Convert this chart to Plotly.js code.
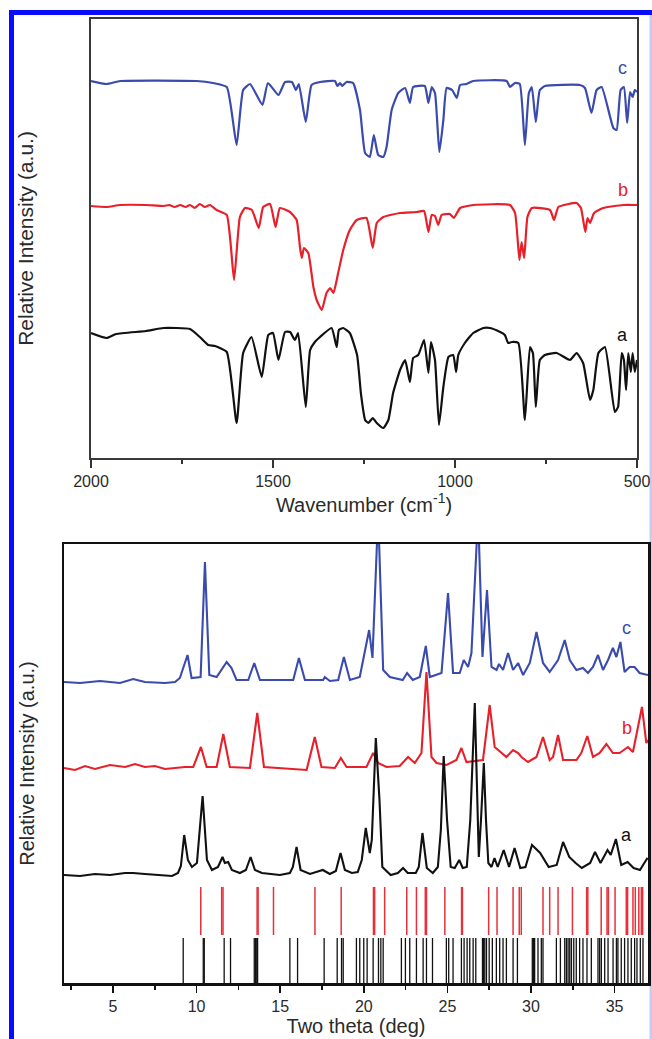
<!DOCTYPE html>
<html><head><meta charset="utf-8">
<script src="https://cdn.plot.ly/plotly-3.0.1.min.js"></script>
<style>html,body{margin:0;padding:0;background:#fff;}#chart{width:652px;height:1039px;}</style>
</head><body><div id="chart"></div>
<script>
// ---------- FTIR (top panel) ----------
const ftirWnC = [2000,1957,1920,1710,1665,1627,1600,1582,1563,1529,1514,1485,1467,1448,1437,1429,1410,1394,1371,1330,1323,1316,1310,1298,1280,1261,1247,1234,1223,1211,1197,1188,1174,1156,1137,1124,1115,1083,1073,1064,1055,1043,1032,1023,1008,995,986,968,950,858,849,835,822,808,797,789,778,767,753,657,643,625,611,597,565,556,545,536,527,519,512,506,500];
const ftirC = [377,374,377,377,375,371,313,368,374,353,375,363,376,376,368,374,336,373,376,377,372,375,372,376,375,348,305,301,323,303,301,311,348,365,370,355,371,372,355,371,365,306,338,370,368,360,373,374,377,377,371,375,374,313,365,371,336,368,372,373,370,345,368,371,330,328,368,371,335,366,361,368,366];

const ftirWnB = [2000,1957,1920,1849,1800,1785,1770,1755,1740,1728,1715,1701,1687,1673,1655,1627,1607,1591,1577,1558,1539,1527,1508,1493,1481,1453,1435,1426,1421,1415,1403,1389,1380,1366,1353,1343,1334,1321,1307,1289,1270,1243,1226,1215,1197,1151,1105,1085,1073,1064,1055,1046,1037,1014,1003,986,950,849,835,823,817,810,801,789,739,728,716,666,654,642,636,629,618,593,538,500];
const ftirB = [252,251,253,253,252,253,251,253,251,253,250,254,251,253,248,243,178,241,250,248,230,251,254,231,250,246,238,211,200,210,205,171,158,148,165,170,165,185,208,228,238,240,210,235,241,245,246,247,226,243,242,233,243,244,240,250,253,253,245,198,216,200,241,250,248,238,251,255,250,226,240,235,245,250,253,253];

const ftirWnA = [2000,1957,1931,1849,1801,1728,1701,1678,1659,1627,1600,1582,1559,1531,1513,1500,1485,1467,1453,1440,1431,1410,1398,1385,1371,1339,1325,1319,1307,1289,1269,1258,1247,1238,1226,1215,1197,1183,1170,1151,1137,1124,1115,1101,1085,1073,1066,1055,1044,1032,1018,1005,997,991,973,950,922,904,876,863,854,844,826,808,794,786,778,767,753,721,684,666,648,629,620,606,588,561,552,542,536,530,524,517,512,506,500];
const ftirA = [125,120,124,127,130,129,121,113,112,106,35,105,121,81,123,125,98,126,126,118,125,51,108,116,121,130,111,128,130,125,103,63,38,35,40,35,30,38,65,88,98,76,100,103,118,85,116,98,33,71,101,103,86,103,115,125,130,130,126,123,115,116,115,38,111,105,51,98,103,105,98,105,95,58,68,105,111,46,51,105,98,68,105,86,105,86,98];

const ftirTicks = [2000,1500,1000,500];

// ---------- XRD (bottom panel) ----------
const xrdThetaC = [2.07,3.03,4.22,5.42,6.21,6.91,8.11,8.71,9.0,9.46,9.7,10.24,10.5,10.76,11.2,11.8,12.09,12.39,13.09,13.45,13.79,15.78,16.12,16.48,17.57,17.67,17.97,18.47,18.81,19.17,19.76,20.32,20.52,20.86,21.16,21.56,22.33,22.59,22.93,23.35,23.71,23.95,24.65,25.04,25.34,25.74,25.98,26.24,26.44,26.84,27.1,27.37,27.64,27.94,28.09,28.33,28.63,28.93,29.23,29.53,29.93,30.33,30.72,31.12,31.62,32.02,32.32,32.72,33.11,33.41,33.71,34.01,34.31,34.61,34.9,35.11,35.35,35.6,35.9,36.2,36.5,36.9,37.0];
const xrdC = [301,300,302,300,304,301,300,301,305,328,305,306,421,308,306,321,315,303,303,320,303,303,325,303,303,306,302,303,326,303,306,353,325,470,313,306,303,310,303,306,337,306,310,390,310,310,323,316,330,470,326,393,316,313,319,313,330,313,320,308,320,351,320,311,323,343,323,313,315,310,316,328,313,323,335,326,341,311,316,316,310,308,308];

const xrdThetaB = [2.07,2.73,3.33,3.92,4.82,5.72,6.32,6.91,7.51,8.11,8.71,9.3,9.8,10.26,10.6,11.2,11.6,11.99,13.19,13.63,14.03,14.98,16.18,16.58,17.07,17.47,18.27,18.63,18.97,19.76,20.16,20.56,20.86,21.36,22.15,22.65,23.05,23.45,23.75,24.05,24.35,24.95,25.54,25.84,26.14,27.13,27.53,27.83,28.03,28.53,28.93,29.23,29.43,29.82,30.33,30.72,31.12,31.32,31.62,31.92,32.72,33.01,33.37,33.71,34.11,34.51,34.9,35.3,35.8,36.1,36.64,36.9,37.0];
const xrdB = [215,213,217,214,218,216,219,216,217,214,215,216,216,236,216,216,249,216,215,270,216,215,213,213,246,216,215,225,216,216,216,230,220,216,217,226,220,230,311,226,220,218,223,235,221,223,278,236,233,226,233,230,226,221,226,246,223,226,248,223,223,230,247,226,230,239,230,230,236,231,276,240,243];

const xrdThetaA = [2.07,3.03,3.92,4.82,5.72,6.2,6.91,7.81,8.53,8.89,9.06,9.26,9.48,9.72,10.02,10.36,10.62,10.92,11.28,11.55,11.69,11.89,12.11,12.59,12.95,13.23,13.49,13.91,14.98,15.58,15.76,15.98,16.22,16.78,17.55,17.97,18.33,18.61,18.87,19.29,19.64,19.88,20.12,20.36,20.48,20.72,20.94,21.11,21.61,22.04,22.35,22.63,23.11,23.29,23.51,23.77,24.13,24.43,24.61,24.78,24.98,25.2,25.44,25.71,25.92,26.16,26.37,26.64,26.88,27.01,27.18,27.31,27.45,27.64,27.82,28.01,28.37,28.69,29.02,29.36,29.67,30.06,30.55,31.06,31.54,31.92,32.29,32.67,33.04,33.54,33.83,34.16,34.58,34.77,35.08,35.4,35.78,36.14,36.52,36.89,36.98];
const xrdA = [108,107,109,108,110,110,109,108,107,110,117,148,123,116,120,187,123,113,116,126,120,121,113,110,113,126,113,110,108,110,116,136,113,109,113,109,112,130,113,110,111,123,155,130,143,245,183,116,108,110,115,110,110,116,150,115,110,116,153,227,163,116,115,123,115,116,163,280,126,163,220,163,120,116,125,116,133,116,135,115,116,138,130,116,118,141,126,120,115,120,131,120,133,128,144,118,121,115,113,123,125];

// reference stick patterns (peak positions, 2θ)
const refRedSticks = [10.25,11.5,11.58,13.62,13.68,14.6,17.08,18.65,20.58,20.65,21.25,22.57,23.15,23.68,23.75,24.85,25.85,25.9,27.47,27.97,28.93,29.3,29.42,30.72,31.12,31.62,32.48,33.33,33.4,34.2,34.55,34.63,35.03,35.7,35.78,36.1,36.24,36.45,36.6,36.68];
const refBlackSticks = [9.2,10.4,10.46,11.65,12.03,13.45,13.53,13.6,13.65,15.58,16.04,17.63,18.41,18.67,18.77,19.56,19.76,20.0,20.2,20.56,20.88,21.02,21.16,22.25,22.49,22.75,23.15,23.55,23.75,24.11,24.94,25.08,25.34,25.84,26.0,26.18,26.34,26.54,26.7,27.1,27.17,27.24,27.34,27.5,27.69,27.93,28.13,28.33,28.53,28.93,29.19,30.08,30.15,30.22,30.42,30.62,30.72,31.52,31.76,32.02,32.12,32.22,32.32,32.42,32.56,32.71,32.91,33.11,33.35,33.61,34.01,34.11,34.21,34.41,34.61,34.91,35.11,35.2,35.4,35.6,35.8,36.0,36.2,36.34,36.54,36.7];
const xrdTicks = [5,10,15,20,25,30,35];

const curveLabels = ['a','b','c'];

// ---------- build ----------
const BLUE = '#3a4bad', RED = '#e8202a', BLACK = '#111111';
function sticks(pos, lo, hi){ const x=[],y=[]; pos.forEach(p=>{x.push(p,p,null);y.push(lo,hi,null);}); return {x,y}; }
const sb = sticks(refBlackSticks, 0, 45), sr = sticks(refRedSticks, 48, 96);

const ftirLine = c => ({color:c, width:2.2, shape:'spline', smoothing:0.45});
const xrdLine = c => ({color:c, width:2.1});

const traces = [
  {x: ftirWnC, y: ftirC, xaxis:'x', yaxis:'y', mode:'lines', line:ftirLine(BLUE), name:'c', showlegend:false, hoverinfo:'skip'},
  {x: ftirWnB, y: ftirB, xaxis:'x', yaxis:'y', mode:'lines', line:ftirLine(RED), name:'b', showlegend:false, hoverinfo:'skip'},
  {x: ftirWnA, y: ftirA, xaxis:'x', yaxis:'y', mode:'lines', line:ftirLine(BLACK), name:'a', showlegend:false, hoverinfo:'skip'},
  {x: xrdThetaC, y: xrdC, xaxis:'x2', yaxis:'y2', mode:'lines', line:xrdLine(BLUE), name:'c', showlegend:false, hoverinfo:'skip'},
  {x: xrdThetaB, y: xrdB, xaxis:'x2', yaxis:'y2', mode:'lines', line:xrdLine(RED), name:'b', showlegend:false, hoverinfo:'skip'},
  {x: xrdThetaA, y: xrdA, xaxis:'x2', yaxis:'y2', mode:'lines', line:xrdLine(BLACK), name:'a', showlegend:false, hoverinfo:'skip'},
  {x: sr.x, y: sr.y, xaxis:'x2', yaxis:'y2', mode:'lines', line:{color:'#e8303a', width:1.5}, showlegend:false, hoverinfo:'skip', connectgaps:false},
  {x: sb.x, y: sb.y, xaxis:'x2', yaxis:'y2', mode:'lines', line:{color:'#111', width:1.3}, showlegend:false, hoverinfo:'skip', connectgaps:false}
];

const FONT = 'Liberation Sans, Arial, sans-serif';
const W = 652, H = 1039;
const px = v => v / W, py = v => 1 - v / H;

const lblColors = [BLACK, RED, BLUE];
const annotations = [];
const topLblY = [123, 268, 390], botLblY = [148, 255, 355];
curveLabels.forEach((t,i)=>{
  annotations.push({xref:'x', yref:'y', x:539, y:topLblY[i], text:t, showarrow:false, font:{family:FONT, size:18, color:lblColors[i]}});
  annotations.push({xref:'x2', yref:'y2', x:35.72, y:botLblY[i], text:t, showarrow:false, font:{family:FONT, size:18, color:lblColors[i]}});
});

const layout = {
  width: W, height: H,
  margin: {l:0, r:0, t:0, b:0},
  paper_bgcolor: '#fff', plot_bgcolor: '#fff',
  font: {family: FONT, color: '#2a2a2a'},
  showlegend: false,
  xaxis: {
    domain: [px(91), px(637)], anchor: 'y', range: [2000, 500],
    tickmode: 'array', tickvals: ftirTicks, ticktext: ftirTicks.map(String),
    ticks: 'outside', ticklen: 8, tickwidth: 1.5, tickcolor: '#333',
    minor: {tickmode:'array', tickvals:[1750,1250,750], ticks:'outside', ticklen:4, tickwidth:1.5, tickcolor:'#333'},
    tickfont: {size: 16, color:'#2a2a2a'},
    showline: true, linecolor: '#3a3a3a', linewidth: 2, mirror: true,
    showgrid: false, zeroline: false, automargin: false,
    title: {text: 'Wavenumber (cm<sup>-1</sup>)', font: {size: 20, color:'#2a2a2a'}, standoff: 6}
  },
  yaxis: {
    domain: [py(458), py(19)], anchor: 'x', range: [0, 439],
    showticklabels: false, ticks: '',
    showline: true, linecolor: '#3a3a3a', linewidth: 2, mirror: true,
    showgrid: false, zeroline: false, automargin: false,
    title: {text: 'Relative Intensity (a.u.)', font: {size: 21, color:'#2a2a2a'}, standoff: 50}
  },
  xaxis2: {
    domain: [px(64), px(648)], anchor: 'y2', range: [2.07, 37.0],
    tickmode: 'array', tickvals: xrdTicks, ticktext: xrdTicks.map(String),
    ticks: 'outside', ticklen: 7, tickwidth: 1.5, tickcolor: '#111',
    minor: {tickmode:'array', tickvals:[2.5,7.5,12.5,17.5,22.5,27.5,32.5], ticks:'outside', ticklen:4, tickwidth:1.5, tickcolor:'#111'},
    tickfont: {size: 16, color:'#2a2a2a'},
    showline: true, linecolor: '#111', linewidth: 2.5, mirror: true,
    showgrid: false, zeroline: false, automargin: false,
    title: {text: 'Two theta (deg)', font: {size: 20, color:'#2a2a2a'}, standoff: 4}
  },
  yaxis2: {
    domain: [py(983), py(544)], anchor: 'x2', range: [0, 439],
    showticklabels: false, ticks: '',
    showline: true, linecolor: '#111', linewidth: 2.5, mirror: true,
    showgrid: false, zeroline: false, automargin: false,
    title: {text: 'Relative Intensity (a.u.)', font: {size: 20, color:'#2a2a2a'}, standoff: 22}
  },
  annotations: annotations,
  shapes: [
    {type:'rect', xref:'paper', yref:'paper', x0:px(9), x1:1, y0:py(15), y1:py(10), fillcolor:'#0a0aff', line:{width:0}, layer:'below'},
    {type:'rect', xref:'paper', yref:'paper', x0:px(9), x1:px(14), y0:0, y1:py(10), fillcolor:'#0a0aff', line:{width:0}, layer:'below'},
    {type:'rect', xref:'paper', yref:'paper', x0:px(649.5), x1:1, y0:0, y1:py(15), fillcolor:'#c9c9f2', line:{width:0}, layer:'below'}
  ]
};

Plotly.newPlot('chart', traces, layout, {staticPlot: true, displayModeBar: false});
</script></body></html>
